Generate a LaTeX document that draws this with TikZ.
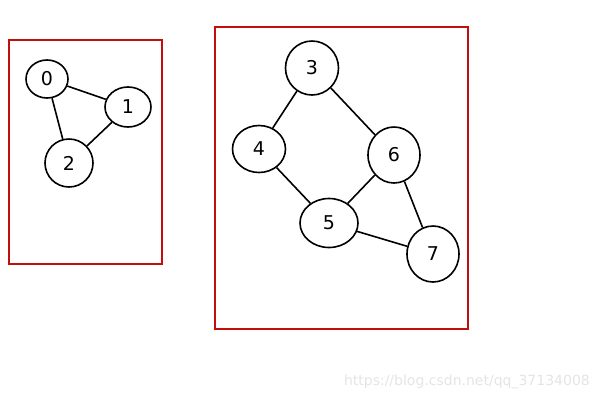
\documentclass[tikz,border=0pt]{standalone}
\usepackage{fontspec}
\setmainfont{DejaVu Sans}
\usetikzlibrary{shapes.geometric}
\definecolor{boxred}{RGB}{196,14,14}
\definecolor{wm}{RGB}{228,228,228}
\tikzset{
  vtx/.style={ellipse,draw=black,line width=1.6pt,inner sep=0pt,font=\fontsize{19}{19}\selectfont},
  edge/.style={line width=1.6pt,black},
  frame/.style={draw=boxred,line width=1.9pt}
}
\begin{document}
\begin{tikzpicture}[x=1pt,y=-1pt]
\useasboundingbox (0,0) rectangle (600,400);
\draw[frame] (9,40) rectangle (162,264);
\draw[frame] (215,27) rectangle (468,329);
\node[vtx,minimum width=42pt,minimum height=38pt] (n0) at (47,79) {0};
\node[vtx,minimum width=46pt,minimum height=40pt] (n1) at (128,107) {1};
\node[vtx,minimum width=48pt,minimum height=48pt] (n2) at (69,163) {2};
\node[vtx,minimum width=53pt,minimum height=54pt] (n3) at (312,68) {3};
\node[vtx,minimum width=53pt,minimum height=47pt] (n4) at (259,149) {4};
\node[vtx,minimum width=52pt,minimum height=56pt] (n6) at (394,155) {6};
\node[vtx,minimum width=58pt,minimum height=49pt] (n5) at (329,223) {5};
\node[vtx,minimum width=52pt,minimum height=56pt] (n7) at (433,254) {7};
\draw[edge] (n0) -- (n1);
\draw[edge] (n0) -- (n2);
\draw[edge] (n1) -- (n2);
\draw[edge] (n3) -- (n4);
\draw[edge] (n3) -- (n6);
\draw[edge] (n4) -- (n5);
\draw[edge] (n5) -- (n6);
\draw[edge] (n5) -- (n7);
\draw[edge] (n6) -- (n7);
\node[text=wm,font=\fontsize{14}{14}\selectfont,anchor=east,inner sep=0pt] (wmark) at (590,382) {https://blog.csdn.net/qq\_37134008};
\end{tikzpicture}
\end{document}
